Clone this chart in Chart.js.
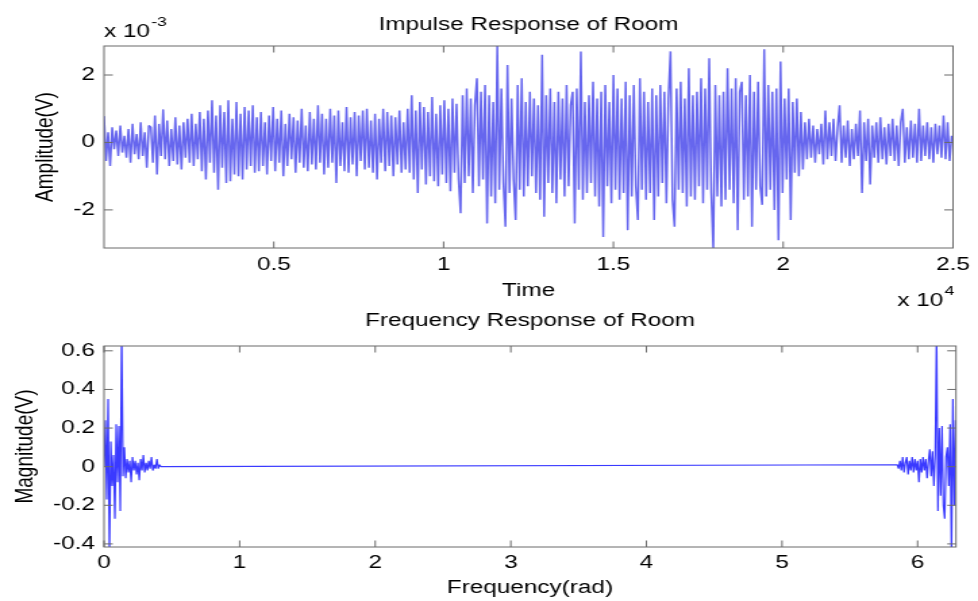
<!DOCTYPE html>
<html>
<head>
<meta charset="utf-8">
<title>Room response</title>
<script src="https://cdn.jsdelivr.net/npm/chart.js@4.4.1/dist/chart.umd.min.js"></script>
<style>
  html, body { margin: 0; padding: 0; background: #fff; }
  body { position: relative; width: 978px; height: 601px; overflow: hidden; }
  canvas { position: absolute; left: 0; }
</style>
</head>
<body>
<!-- both plots are drawn narrow and stretched sideways to get the wide MATLAB look -->
<canvas id="impulse" width="724" height="310" style="top:0;width:978px;height:310px"></canvas>
<canvas id="freq" width="724" height="291" style="top:310px;width:978px;height:291px"></canvas>
<script>
// impulse response, amplitude in units of 1e-3 V, one value every 60 samples
var sampleStep = 60;
var amplitude = [
  // 0 - 0.1e4
  0.78, -0.55, 0.3, -0.7, 0.45, -0.2, 0.35, -0.4, 0.5, -0.3, 0.2, -0.45, 0.4, -0.6, 0.55, -0.35, 0.25, -0.5, 0.6, -0.4, 0.3, -0.75, 0.5,
  0.45, -0.6, 0.8, -0.95, 0.55, -0.4, 0.98, -0.5, 0.65, -0.7, 0.4, -0.55, 0.75, -0.65, 0.5, -0.8, 0.6, -0.45, 0.7, -0.6, 0.85, -0.7, 0.55, -0.5, 0.9,
  // 0.3 - 0.45e4
  -0.85, 0.7, -1.1, 0.95, -0.6, 1.25, -0.9, 0.8, -1.4, 1.1, -0.75, 0.9, -1.2, 1.25, -1.15, 0.7, -0.95, 1.2, -1.0, 0.85, -1.1, 1.05, -0.8, 0.95, -0.7, 1.1, -0.9, 0.75, -0.85,
  0.9, -0.7, 0.6, -0.95, 0.8, -0.55, 1.05, -0.85, 0.7, -0.6, 0.95, -1.0, 0.55, -0.7, 0.85, -0.5, 0.75, -0.9, 0.65, -0.6, 1.0, -0.75, 0.5, -0.85, 0.9, -0.65, 0.7, -0.8, 1.1,
  // 0.65 - 0.9e4
  -0.6, 0.85, -0.95, 0.7, -0.75, 1.0, -0.6, 0.8, -1.2, 0.95, -0.7, 0.6, -0.85, 1.05, -0.9, 0.75, -0.65, 0.9, -1.0, 0.8,
  -0.55, 0.95, -0.8, 1.0, -0.75, 0.65, -0.9, 0.85, -1.1, 0.7, -0.6, 1.0, -0.85, 0.9, -0.7, 0.8, -1.0, 0.75, -0.65, 0.95, -0.9, 0.6, -0.8, 1.0,
  -0.9, 1.4, -1.1, 0.95, -1.5, 1.2, -0.8, 1.05, -1.25, 0.9, -1.0, 1.35, -1.15, 0.85, -1.3, 1.1, -0.95, 1.25, -1.2, 1.0, -1.45, 1.3, -0.9, 1.15, -1.1,
  // 1.05 - 1.25e4
  -2.1, 1.4, -1.2, 1.6, -1.0, 1.3, -1.5, 1.1, 1.9, -1.3, 1.5, -1.1, 1.7, -2.4, 1.4, -1.6, 1.2, -1.8, 2.86, -1.4,
  1.6, -1.2, -2.5, 2.3, -1.5, 1.3, -1.1, -2.3, 1.7, -1.4, 1.9, -1.6, 1.2, -1.3, 1.5, -1.0,
  // 1.25 - 1.9e4
  1.3, -1.5, 1.1, -1.7, 2.6, -2.2, 1.4, -1.2, 1.6, -1.5, 1.2, -1.8, 1.5, -1.1, 1.3, -1.6, 1.7, -1.3, 1.1, 1.5,
  -2.4, 1.6, -1.4, 2.7, -1.7, 1.2, -1.5, 1.4, -1.2, 1.8, -1.6, 1.3, -1.9, 1.5, -2.8, 1.7, -1.3, 1.2, -1.8, 2.0,
  -1.4, 1.6, -1.7, 1.3, -1.5, 1.8, -2.6, 1.4, -1.6, 1.7, -1.3, -2.3, 1.9, -1.4, 1.5, -1.7, 1.2, -1.5, 1.6, -2.3,
  1.4, -1.6, 1.7, -1.2, 1.5, -1.8, 1.3, 2.7, -1.7, -2.5, 1.6, -1.4, 1.8, -1.5, 1.3, -1.9, 2.2, -1.6, 1.4, -1.7,
  1.5, -1.3, 1.9, -1.8, 1.6, -1.4, 2.5, -1.5, -3.15, 1.7, -1.6, 1.4, -1.9, 1.5, -1.7, 2.2, -1.4, 1.6, -1.8, 1.9,
  -2.6, 1.5, 1.8, -1.7, 1.4,
  // 1.9 - 2.05e4
  -1.6, 2.0, -2.5, 1.5, -1.4, 1.8, -1.3, -1.85, 2.76, -1.6, 1.7, -1.4, 1.5, -2.0, 1.6, -2.9, 2.4, -1.5,
  1.3, -1.1, 1.6, -2.3, 1.2, -0.9, 1.3, -1.0, 0.9, -0.8,
  // tail 2.05 - 2.5e4
  0.6, -0.5, 0.7, -0.45, 0.5, -0.6, 0.4, -0.35, 0.55, -0.65, 0.95, -0.5, 0.6, -0.4, 0.7, -0.55, 0.45, 1.1, -0.6, 0.5,
  -0.45, 0.65, -0.7, 0.4, -0.5, 0.55, -0.4, 0.95, -1.5, 0.6, -0.55, 0.7, -1.25, 0.5, -0.45, 0.6, -0.6, 0.75, -0.5, 0.45,
  -0.65, 0.55, -0.4, 0.7, -0.55, 0.5, -0.7, 0.6, 1.0, -0.6, 0.45, -0.5, 0.65, -0.45, 0.55, -0.6, 1.0, -0.55, 0.5, -0.4,
  0.6, -0.5, 0.45, -0.6, 0.55, -0.35, 0.5, -0.45, 0.8, -0.5, 0.6, -0.55, 0.2
];
var timeTicks = [5000, 10000, 15000, 20000, 25000];
var amplitudeTicks = [-2, 0, 2];

// real part of the spectrum; flat at zero between the two bands
var bandStep = 0.01;
var lowBandStart = 0;
var lowBand = [
  0, 0.24, -0.17, 0.35, -0.45, 0.13, -0.1, 0.06, -0.27, 0.22,
  -0.08, 0.21, -0.23, 0.7, -0.05, 0.1, -0.06, 0.04, -0.03, 0.03,
  -0.08, 0.05, -0.02, 0.03, -0.04, 0.02, -0.07, 0.04, -0.02, 0.06,
  -0.03, 0.02, -0.02, 0.03, -0.01, 0.05, -0.02, 0.01, -0.01, 0.04,
  -0.01, 0.01, 0
];
var highBandStart = 5.85;
var highBand = [
  0.01, -0.01, 0.03, -0.02, 0.05, -0.03, 0.02, 0.05, -0.04, 0.03,
  -0.02, 0.05, -0.03, 0.04, -0.02, 0.03, -0.08, 0.04, -0.03, 0.05,
  -0.02, 0.04, -0.06, 0.03, 0.09, -0.05, 0.08, -0.1, 0.06, 0.7,
  -0.23, 0.2, -0.15, 0.21, -0.2, -0.27, 0.05, 0.1, -0.1, 0.22,
  -0.45, 0.35, -0.2, 0.24
];
var freqTicks = [0, 1, 2, 3, 4, 5, 6];
var magnitudeTicks = [-0.4, -0.2, 0, 0.2, 0.4, 0.6];

Chart.defaults.font.family = "'Liberation Sans', Arial, sans-serif";
Chart.defaults.font.size = 18;
Chart.defaults.color = '#000';

// box with inward ticks on all four sides, plus the "x 10^n" multipliers
var matlabAxes = {
  id: 'matlabAxes',
  afterDraw: function (chart, args, opts) {
    var ctx = chart.ctx, a = chart.chartArea, sx = chart.scales.x, sy = chart.scales.y;
    var len = 6.5;
    ctx.save();
    ctx.strokeStyle = '#6a6a6a';
    ctx.lineWidth = 1;
    ctx.strokeRect(a.left, a.top, a.right - a.left, a.bottom - a.top);
    ctx.beginPath();
    sx.ticks.forEach(function (t) {
      var px = sx.getPixelForValue(t.value);
      ctx.moveTo(px, a.bottom); ctx.lineTo(px, a.bottom - len);
      ctx.moveTo(px, a.top); ctx.lineTo(px, a.top + len);
    });
    sy.ticks.forEach(function (t) {
      var py = sy.getPixelForValue(t.value);
      ctx.moveTo(a.left, py); ctx.lineTo(a.left + len, py);
      ctx.moveTo(a.right, py); ctx.lineTo(a.right - len, py);
    });
    ctx.stroke();

    ctx.fillStyle = '#000';
    ctx.textBaseline = 'alphabetic';
    ctx.textAlign = 'left';
    (opts.multipliers || []).forEach(function (m) {
      ctx.font = "18px 'Liberation Sans', Arial, sans-serif";
      var baseW = ctx.measureText(m.base).width;
      ctx.font = "13px 'Liberation Sans', Arial, sans-serif";
      var powW = ctx.measureText(m.power).width;
      var x, y;
      if (m.corner === 'top-left') {
        x = a.left; y = a.top - 9.5;
      } else {
        x = a.right - powW - baseW; y = a.bottom + 58;
      }
      ctx.font = "18px 'Liberation Sans', Arial, sans-serif";
      ctx.fillText(m.base, x, y);
      ctx.font = "13px 'Liberation Sans', Arial, sans-serif";
      ctx.fillText(m.power, x + baseW + 1, y - 11);
    });
    ctx.restore();
  }
};

function fixedTicks(list) {
  return function (scale) {
    scale.ticks = list.map(function (v) { return { value: v }; });
  };
}

var impulsePoints = amplitude.map(function (v, i) {
  return { x: 1 + i * sampleStep, y: v };
});

new Chart(document.getElementById('impulse'), {
  type: 'line',
  data: {
    datasets: [{
      data: impulsePoints,
      borderColor: '#6666ee',
      borderWidth: 1.5,
      borderJoinStyle: 'bevel',
      pointRadius: 0,
      tension: 0,
      fill: false
    }]
  },
  plugins: [matlabAxes],
  options: {
    responsive: false,
    devicePixelRatio: 1,
    animation: false,
    layout: { padding: { left: 0, right: 16.3, top: 0, bottom: 0 } },
    plugins: {
      legend: { display: false },
      tooltip: { enabled: false },
      title: {
        display: true,
        text: 'Impulse Response of Room',
        fullSize: false,
        font: { size: 18, weight: 'normal' },
        padding: { top: 14.2, bottom: 10.2 }
      },
      matlabAxes: { multipliers: [
        { base: 'x 10', power: '-3', corner: 'top-left' },
        { base: 'x 10', power: '4', corner: 'bottom-right' }
      ] }
    },
    scales: {
      x: {
        type: 'linear',
        min: 1,
        max: 25000,
        grid: { display: false, drawTicks: false },
        border: { display: false },
        afterBuildTicks: fixedTicks(timeTicks),
        afterFit: function (s) { s.height = 62; },
        ticks: {
          padding: 6,
          maxRotation: 0,
          callback: function (v) { return String(v / 10000); }
        },
        title: { display: true, text: 'Time', font: { size: 18 }, padding: { top: 0, bottom: 8.5 } }
      },
      y: {
        min: -3.13,
        max: 2.86,
        grid: { display: false, drawTicks: false },
        border: { display: false },
        afterBuildTicks: fixedTicks(amplitudeTicks),
        afterFit: function (s) { s.width = 77; },
        ticks: { padding: 6.7, callback: function (v) { return String(v); } },
        title: { display: true, text: 'Amplitude(V)', font: { size: 19 }, padding: { top: 22.6, bottom: 0 } }
      }
    }
  }
});

var freqPoints = [];
lowBand.forEach(function (v, i) {
  freqPoints.push({ x: lowBandStart + i * bandStep, y: v });
});
highBand.forEach(function (v, i) {
  freqPoints.push({ x: highBandStart + i * bandStep, y: v });
});

new Chart(document.getElementById('freq'), {
  type: 'line',
  data: {
    datasets: [{
      data: freqPoints,
      borderColor: '#3a3aff',
      borderWidth: 1.2,
      borderJoinStyle: 'bevel',
      pointRadius: 0,
      tension: 0,
      fill: false
    }]
  },
  plugins: [matlabAxes],
  options: {
    responsive: false,
    devicePixelRatio: 1,
    animation: false,
    layout: { padding: { left: 0, right: 16.3, top: 0, bottom: 0 } },
    plugins: {
      legend: { display: false },
      tooltip: { enabled: false },
      title: {
        display: true,
        text: 'Frequency Response of Room',
        fullSize: false,
        font: { size: 18, weight: 'normal' },
        padding: { top: 0.7, bottom: 13.7 }
      }
    },
    scales: {
      x: {
        type: 'linear',
        min: 0,
        max: 2 * Math.PI,
        grid: { display: false, drawTicks: false },
        border: { display: false },
        afterBuildTicks: fixedTicks(freqTicks),
        afterFit: function (s) { s.height = 54; },
        ticks: { padding: 5.2, maxRotation: 0, callback: function (v) { return String(v); } },
        title: { display: true, text: 'Frequency(rad)', font: { size: 18 }, padding: { top: 0, bottom: 2.2 } }
      },
      y: {
        min: -0.416,
        max: 0.625,
        grid: { display: false, drawTicks: false },
        border: { display: false },
        afterBuildTicks: fixedTicks(magnitudeTicks),
        afterFit: function (s) { s.width = 77; },
        ticks: { padding: 6.7, callback: function (v) { return String(v); } },
        title: { display: true, text: 'Magnitude(V)', font: { size: 19 }, padding: { top: 7.1, bottom: 0 } }
      }
    }
  }
});
</script>
</body>
</html>
